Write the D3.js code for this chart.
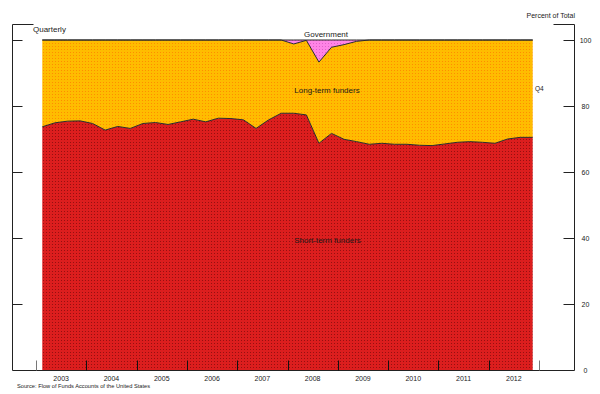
<!DOCTYPE html>
<html>
<head>
<meta charset="utf-8">
<script src="https://cdn.jsdelivr.net/npm/d3@7"></script>
<style>
html,body{margin:0;padding:0;background:#fff;}
svg{display:block;font-family:"Liberation Sans",Arial,sans-serif;}
</style>
</head>
<body>
<svg id="chart" width="600" height="394"></svg>
<script>
const periods = ["2003Q1","2003Q2","2003Q3","2003Q4","2004Q1","2004Q2","2004Q3","2004Q4",
  "2005Q1","2005Q2","2005Q3","2005Q4","2006Q1","2006Q2","2006Q3","2006Q4",
  "2007Q1","2007Q2","2007Q3","2007Q4","2008Q1","2008Q2","2008Q3","2008Q4",
  "2009Q1","2009Q2","2009Q3","2009Q4","2010Q1","2010Q2","2010Q3","2010Q4",
  "2011Q1","2011Q2","2011Q3","2011Q4","2012Q1","2012Q2","2012Q3","2012Q4"];
const shortTerm = [73.7,74.9,75.4,75.5, 74.7,72.7,73.8,73.2, 74.7,75.0,74.4,75.2,
  76.0,75.2,76.3,76.2, 75.8,73.2,75.8,77.8, 77.8,77.3,68.7,71.7,
  69.9,69.2,68.4,68.7, 68.4,68.4,68.1,68.0, 68.5,69.0,69.2,69.0, 68.7,70.0,70.5,70.5];
const longTerm = [26.3,25.1,24.6,24.5, 25.3,27.3,26.2,26.8, 25.3,25.0,25.6,24.8,
  24.0,24.8,23.7,23.8, 24.2,26.8,24.2,22.2, 21.0,22.6,24.6,26.1,
  28.7,30.4,31.6,31.3, 31.6,31.6,31.9,32.0, 31.5,31.0,30.8,31.0, 31.3,30.0,29.5,29.5];
const government = [0,0,0,0, 0,0,0,0, 0,0,0,0, 0,0,0,0, 0,0,0,0,
  1.2,0.1,6.7,2.2, 1.4,0.4,0,0, 0,0,0,0, 0,0,0,0, 0,0,0,0];
const yearLabels = ["2003","2004","2005","2006","2007","2008","2009","2010","2011","2012"];
const yTicks = [0,20,40,60,80,100];

const svg = d3.select("#chart");
const defs = svg.append("defs");
function pat(id, base, dot){
  const p = defs.append("pattern").attr("id",id).attr("width",3).attr("height",3)
    .attr("patternUnits","userSpaceOnUse");
  p.append("rect").attr("width",3).attr("height",3).attr("fill",base);
  p.append("rect").attr("x",1).attr("y",1).attr("width",1).attr("height",1).attr("fill",dot);
}
pat("pRed","#dc1e1e","#961010");
pat("pOrange","#ffbc00","#ff8c00");
pat("pPink","#ff84e6","#e060c8");

const x = d3.scaleLinear().domain([2003, 2013]).range([36, 539]);
const y = d3.scaleLinear().domain([0, 100]).range([370, 40]);
const px = p => +p.slice(0,4) + (+p.slice(5) - 0.5) / 4;

const data = periods.map((p,i)=>({p, short: shortTerm[i], long: longTerm[i], gov: government[i]}));
const keys = ["short","long","gov"];
const fills = {short:"url(#pRed)", long:"url(#pOrange)", gov:"url(#pPink)"};
const series = d3.stack().keys(keys)(data);

const area = d3.area().x(d=>x(px(d.data.p))).y0(d=>y(d[0])).y1(d=>y(d[1]));
const line = d3.line().x(d=>x(px(d.data.p))).y(d=>y(d[1]));

svg.append("g").selectAll("path").data(series).join("path")
  .attr("d", area).attr("fill", d=>fills[d.key]);
svg.append("g").selectAll("path").data(series).join("path")
  .attr("d", line).attr("fill","none").attr("stroke","#2a2a2a").attr("stroke-width",1);

// axes frame
const ax = svg.append("g").attr("stroke","#222").attr("stroke-width",1).attr("fill","none");
const xL = 12.5, xR = 574.5, yB = 370.5, yT = 24.5;
ax.append("path").attr("d",`M${xL+21},${yT}H${xL}V${yB}H${xR}V${yT}H${xR-21}`);
yTicks.filter(t=>t>0).forEach(t=>{
  const yy = Math.round(y(t))+0.5;
  ax.append("line").attr("x1",xL).attr("x2",xL+10).attr("y1",yy).attr("y2",yy);
  ax.append("line").attr("x1",xR-11).attr("x2",xR).attr("y1",yy).attr("y2",yy);
});
d3.range(2003, 2014).forEach(yr=>{
  const xx = Math.round(x(yr))+0.5;
  ax.append("line").attr("x1",xx).attr("x2",xx).attr("y1",yB).attr("y2",yB-10)
    .attr("stroke", (yr===2003||yr===2013) ? "#777" : "#111");
});

const txt = svg.append("g").attr("fill","#1a1a1a");
yearLabels.forEach(l=>{
  txt.append("text").attr("x", x(+l + 0.5)).attr("y", 381).attr("text-anchor","middle")
    .attr("font-size",7).text(l);
});
yTicks.forEach(t=>{
  txt.append("text").attr("x",585.5).attr("y",y(t)+2.5).attr("text-anchor","middle")
    .attr("font-size",7).text(t);
});
txt.append("text").attr("x",33).attr("y",31.5).attr("font-size",8).text("Quarterly");
txt.append("text").attr("x",575).attr("y",18).attr("text-anchor","end").attr("font-size",7).text("Percent of Total");
txt.append("text").attr("x",326).attr("y",37).attr("text-anchor","middle").attr("font-size",8).text("Government");
txt.append("text").attr("x",327).attr("y",93).attr("text-anchor","middle").attr("font-size",8).text("Long-term funders");
txt.append("text").attr("x",327.5).attr("y",242.5).attr("text-anchor","middle").attr("font-size",8).text("Short-term funders");
txt.append("text").attr("x",535).attr("y",91).attr("font-size",6.5).text("Q4");
txt.append("text").attr("x",17).attr("y",388).attr("font-size",5.7).text("Source: Flow of Funds Accounts of the United States");
</script>
</body>
</html>
